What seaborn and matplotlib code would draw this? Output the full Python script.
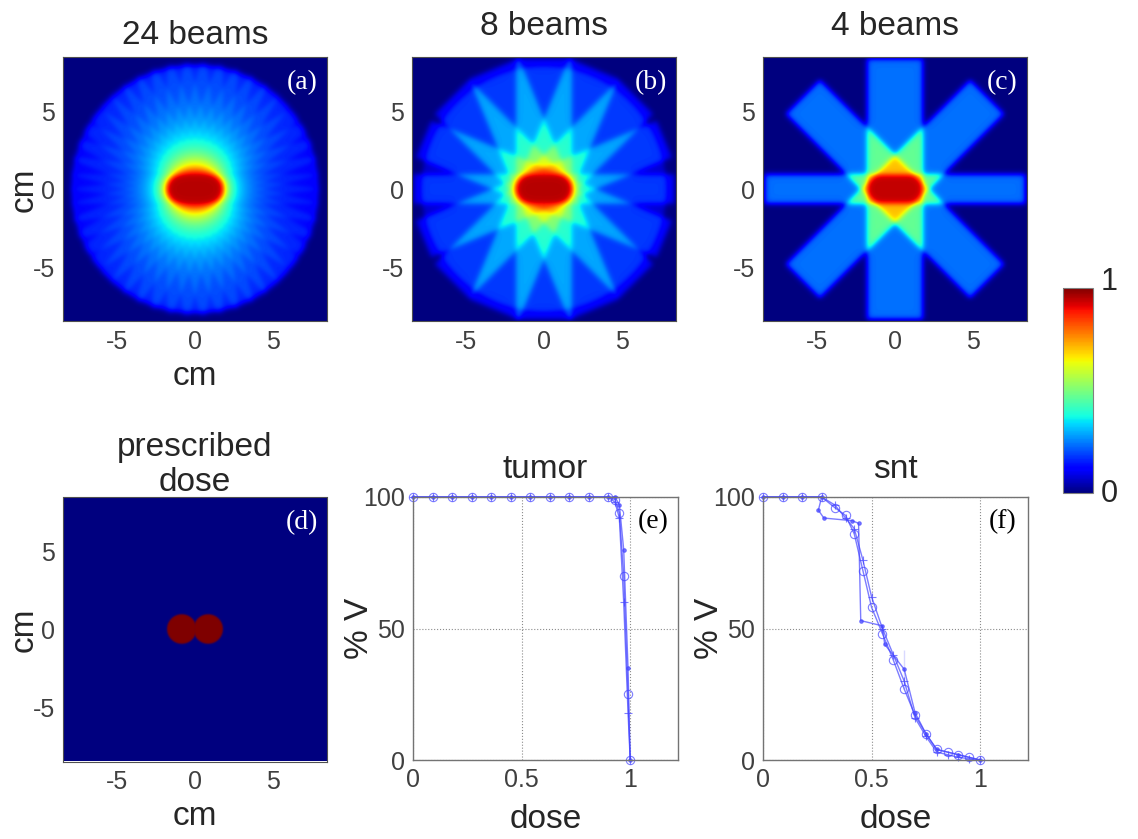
import numpy as np
import pandas as pd
import matplotlib
matplotlib.use('Agg')
import matplotlib.pyplot as plt
import seaborn as sns
from matplotlib.cm import ScalarMappable
from matplotlib.colors import Normalize, LinearSegmentedColormap

# phantom geometry (cm)
extent = 8.5
tumor_x = [-0.85, 0.85]
tumor_r = 0.95
body_r = 7.9

# beam setups for the three plans
beam_titles = ['24 beams', '8 beams', '4 beams']
beam_counts = [24, 8, 4]
beam_weight = [0.0375, 0.11, 0.235]
body_dose = [0.05, 0.07, 0.0]
beam_half_len = [8.0, 8.4, 8.4]
penumbra = [0.1, 0.1, 0.1]

# DVH curves (dose, % volume)
tumor_dose = [0, 0.09, 0.18, 0.27, 0.36, 0.45, 0.54, 0.63, 0.72, 0.81, 0.9, 0.93, 0.95, 0.97, 0.99, 1.0]
tumor_24 = [100, 100, 100, 100, 100, 100, 100, 100, 100, 100, 100, 99, 94, 70, 25, 0]
tumor_8 = [100, 100, 100, 100, 100, 100, 100, 100, 100, 100, 100, 98, 92, 60, 18, 0]
tumor_4 = [100, 100, 100, 100, 100, 100, 100, 100, 100, 100, 100, 100, 97, 80, 35, 0]

snt_dose = [0, 0.09, 0.18, 0.27, 0.33, 0.38, 0.42, 0.46, 0.5, 0.55, 0.6, 0.65, 0.7, 0.75, 0.8, 0.85, 0.9, 0.95, 1.0]
snt_24 = [100, 100, 100, 100, 96, 93, 86, 72, 58, 48, 38, 27, 17, 10, 4, 3, 2, 1, 0]
snt_8 = [100, 100, 100, 100, 97, 92, 88, 76, 62, 50, 40, 30, 16, 9, 3, 2, 1, 0.5, 0]
snt4_dose = [0, 0.09, 0.18, 0.27, 0.255, 0.28, 0.41, 0.44, 0.45, 0.55, 0.56, 0.65, 0.65, 0.7, 0.75, 0.8, 0.9, 1.0]
snt_4 = [100, 100, 100, 100, 95, 92, 91, 90, 53, 51, 44, 42, 27, 18, 10, 4, 2, 0]

panel_tags = ['(a)', '(b)', '(c)', '(d)', '(e)', '(f)']


def soft_step(v, s):
    return 1.0 / (1.0 + np.exp(-np.clip(v / s, -50, 50)))


xs = np.linspace(-extent, extent, 681)
X, Y = np.meshgrid(xs, xs)
R = np.hypot(X, Y)

# prescribed dose: two touching discs
dist = np.minimum(np.hypot(X - tumor_x[0], Y), np.hypot(X - tumor_x[1], Y)) - tumor_r
prescribed = soft_step(-dist, 0.03)


def dose_map(i):
    dose = body_dose[i] * soft_step(body_r - R, 0.1)
    n = beam_counts[i]
    for th in np.arange(n) * np.pi / n:
        along = X * np.cos(th) + Y * np.sin(th)
        across = -X * np.sin(th) + Y * np.cos(th)
        hw = tumor_r + abs(tumor_x[1] * np.sin(th))
        dose += beam_weight[i] * soft_step(hw - np.abs(across), penumbra[i]) \
            * soft_step(beam_half_len[i] - np.abs(along), penumbra[i])
    return np.minimum(dose, 1.0)


sns.set_style('white')
plt.rcParams['font.family'] = ['Liberation Sans', 'DejaVu Sans']
plt.rcParams['axes.unicode_minus'] = False

jet = plt.get_cmap('jet')
# two-level map keeps the disc edges free of rainbow fringes
two_tone = LinearSegmentedColormap.from_list('two_tone', [jet(0.0), jet(1.0)])

W, H = 1138, 839


def box(l, t, r, b):
    return [l / W, 1 - b / H, (r - l) / W, (b - t) / H]


fig = plt.figure(figsize=(W / 100, H / 100), dpi=100)

img_boxes = [box(63, 57, 327, 322), box(412, 57, 676, 322), box(763, 57, 1027, 322), box(63, 497, 327, 762)]
dvh_boxes = [box(413, 497, 678, 760), box(763, 497, 1028, 760)]

maps = [dose_map(0), dose_map(1), dose_map(2), prescribed]
title_gap = [14, 23, 23, 7]

img_axes = []
for k in range(4):
    ax = fig.add_axes(img_boxes[k])
    ax.imshow(maps[k], cmap=jet if k < 3 else two_tone, vmin=0, vmax=1, origin='lower',
              extent=(-extent, extent, -extent, extent), interpolation='antialiased')
    ax.set_xticks([-5, 0, 5])
    ax.set_yticks([-5, 0, 5])
    ax.tick_params(length=0, labelsize=18, labelcolor='#404040', pad=6)
    for s in ax.spines.values():
        s.set_color('#505050')
        s.set_linewidth(0.8)
    ax.text(0.905, 0.905, panel_tags[k], transform=ax.transAxes, color='white',
            fontsize=20, family=['Liberation Serif', 'DejaVu Serif'], ha='center', va='center')
    title = beam_titles[k] if k < 3 else 'prescribed\ndose'
    ax.text(0.5, 1 + title_gap[k] / 265, title, transform=ax.transAxes, fontsize=24,
            ha='center', va='baseline', linespacing=1.15)
    img_axes.append(ax)

for ax in [img_axes[0], img_axes[3]]:
    ax.set_xlabel('cm', fontsize=24)
    ax.xaxis.set_label_coords(0.5, -0.24)
    ax.xaxis.label.set_va('baseline')
    ax.set_ylabel('cm', fontsize=24)
    ax.yaxis.set_label_coords(-0.114, 0.5)
    ax.yaxis.label.set_va('baseline')

# dose volume histograms
dvh_sets = [
    ('tumor', [(tumor_dose, tumor_24, 'o'), (tumor_dose, tumor_8, '+'), (tumor_dose, tumor_4, '.')]),
    ('snt', [(snt_dose, snt_24, 'o'), (snt_dose, snt_8, '+'), (snt4_dose, snt_4, '.')]),
]
line_col = '#4545ff'

for j, (name, curves) in enumerate(dvh_sets):
    ax = fig.add_axes(dvh_boxes[j])
    for xd, yd, mk in curves:
        df = pd.DataFrame({'dose': xd, 'vol': yd})
        sns.lineplot(data=df, x='dose', y='vol', ax=ax, sort=False, color=line_col,
                     lw=1.0, alpha=0.7, marker=mk, markersize=6 if mk != '.' else 5,
                     markerfacecolor='none' if mk == 'o' else line_col,
                     markeredgecolor=line_col, markeredgewidth=0.8, clip_on=False)
    ax.set_xlim(0, 1.22)
    ax.set_ylim(0, 100)
    ax.set_xticks([0, 0.5, 1])
    ax.set_xticklabels(['0', '0.5', '1'])
    ax.set_yticks([0, 50, 100])
    ax.grid(True, ls=':', color='0.55', lw=0.8)
    ax.tick_params(direction='in', length=4, color='0.45', labelsize=18,
                   labelcolor='#404040', pad=6)
    for s in ax.spines.values():
        s.set_color('0.45')
        s.set_linewidth(1.0)
    ax.set_xlabel('dose', fontsize=24)
    ax.xaxis.set_label_coords(0.5, -0.26)
    ax.xaxis.label.set_va('baseline')
    ax.set_ylabel('% V', fontsize=24)
    ax.yaxis.set_label_coords(-0.17, 0.5)
    ax.yaxis.label.set_va('baseline')
    ax.text(0.5, 1 + 19 / 263, name, transform=ax.transAxes, fontsize=24,
            ha='center', va='baseline')
    ax.text(0.905, 0.905, panel_tags[4 + j], transform=ax.transAxes, color='black',
            fontsize=20, family=['Liberation Serif', 'DejaVu Serif'], ha='center', va='center')

# colour bar
cax = fig.add_axes(box(1063, 288, 1093, 493))
cb = fig.colorbar(ScalarMappable(norm=Normalize(0, 1), cmap=jet), cax=cax)
cb.set_ticks([])
cb.outline.set_edgecolor('0.5')
cax.text(1.25, 1.03, '1', transform=cax.transAxes, fontsize=22, ha='left', va='center')
cax.text(1.25, -0.005, '0', transform=cax.transAxes, fontsize=22, ha='left', va='center')

fig.savefig('out.png', dpi=100)
